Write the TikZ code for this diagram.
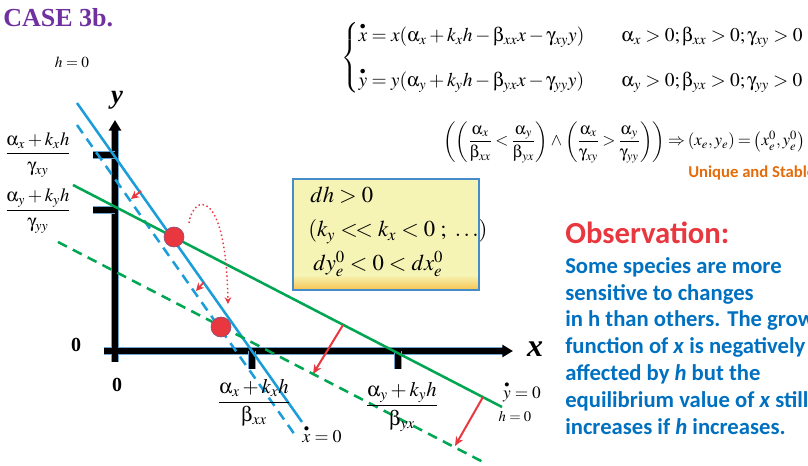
\documentclass[tikz,border=0pt]{standalone}
\usepackage{amsmath}
\usepackage{mathptmx}
\usepackage[Symbol]{upgreek}
\usepackage[no-math]{fontspec}
\setmainfont{Liberation Serif}
\newfontfamily\calibri{Carlito}
\usetikzlibrary{arrows.meta,calc}
\definecolor{lblue}{RGB}{27,157,217}
\definecolor{lgreen}{RGB}{0,166,81}
\definecolor{lred}{RGB}{232,55,63}
\definecolor{purp}{RGB}{112,48,160}
\definecolor{obsblue}{RGB}{0,112,192}
\definecolor{uorange}{RGB}{228,108,10}
\definecolor{boxfill}{RGB}{246,244,181}
\definecolor{boxbottom}{RGB}{248,196,80}
\definecolor{boxedge}{RGB}{70,140,200}
\definecolor{axisedge}{RGB}{110,165,210}
\definecolor{dotedge}{RGB}{140,80,120}
\newcommand\bd[1]{\overset{\scriptscriptstyle\bullet}{#1}}
\newcommand\ua{\upalpha}
\newcommand\ub{\upbeta}
\newcommand\ug{\upgamma}
\tikzset{
  axisout/.style={line width=5.4pt, color=axisedge},
  axisin/.style={line width=3.9pt, color=black},
  solidblue/.style={line width=1.9pt, color=lblue},
  dashblue/.style={line width=1.9pt, color=lblue, dash pattern=on 7.5pt off 5pt},
  solidgreen/.style={line width=1.9pt, color=lgreen},
  dashgreen/.style={line width=1.9pt, color=lgreen, dash pattern=on 7.5pt off 5pt},
  redarrow/.style={line width=1.5pt, color=lred, -{Stealth[length=7pt,width=6pt]}},
  reddot/.style={circle, fill=lred, draw=dotedge, line width=0.5pt, minimum size=15pt, inner sep=0pt},
  lbl/.style={inner sep=0pt},
  bluetxt/.style={anchor=base west, inner sep=0pt, text=obsblue, font=\calibri\bfseries\fontsize{17}{20}\selectfont},
}
\begin{document}
\begin{tikzpicture}[x=0.75pt,y=-0.75pt]
\useasboundingbox (0,0) rectangle (808,466);
\clip (0,0) rectangle (808,466);
% coordinates
\coordinate (yBot) at (115,362);
\coordinate (yTop) at (115,120);
\coordinate (xLeft) at (104,351);
\coordinate (xRight) at (513,351);
% title
\node[lbl, anchor=base west, text=purp, font=\bfseries\fontsize{19.5}{22}\selectfont] (title) at (3,27) {CASE 3b.};
% axes
\draw[axisout] (yBot) -- ($(yTop)+(0,9)$);
\draw[axisout] (xLeft) -- ($(xRight)+(-9,0)$);
\draw[axisin, -{Triangle[length=8pt,width=9pt]}] (yBot) -- (yTop);
\draw[axisin, -{Triangle[length=8pt,width=9pt]}] (xLeft) -- (xRight);
\coordinate (t1a) at (93,155); \coordinate (t1b) at (115,155);
\coordinate (t2a) at (93,210); \coordinate (t2b) at (115,210);
\coordinate (t3a) at (252,351); \coordinate (t3b) at (252,369);
\coordinate (t4a) at (398,351); \coordinate (t4b) at (398,369);
\foreach \a/\b in {t1a/t1b,t2a/t2b,t3a/t3b,t4a/t4b}{
  \draw[axisout] (\a) -- (\b);
}
\foreach \a/\b in {t1a/t1b,t2a/t2b,t3a/t3b,t4a/t4b}{
  \draw[axisin] (\a) -- (\b);
}
% lines
\coordinate (bs1) at (77,103); \coordinate (bs2) at (302,422);
\coordinate (bd1) at (77,125); \coordinate (bd2) at (295,435);
\coordinate (gs1) at (73,185); \coordinate (gs2) at (502,407);
\coordinate (gd1) at (58,242); \coordinate (gd2) at (485,463);
\draw[solidblue] (bs1) -- (bs2);
\draw[dashblue] (bd1) -- (bd2);
\draw[solidgreen] (gs1) -- (gs2);
\draw[dashgreen] (gd1) -- (gd2);
% red arrows
\coordinate (ra1) at (141,191); \coordinate (rb1) at (131,199);
\coordinate (ra2) at (204,282); \coordinate (rb2) at (196,291);
\coordinate (ra3) at (343,325); \coordinate (rb3) at (313,374);
\coordinate (ra4) at (483,397); \coordinate (rb4) at (455,446);
\draw[redarrow, line width=1.3pt, -{Stealth[length=6pt,width=6pt]}] (ra1) -- (rb1);
\draw[redarrow, line width=1.3pt, -{Stealth[length=6pt,width=6pt]}] (ra2) -- (rb2);
\draw[redarrow] (ra3) -- (rb3);
\draw[redarrow] (ra4) -- (rb4);
% dots
\node[reddot] (dot1) at (174,237) {};
\node[reddot] (dot2) at (221,327) {};
\coordinate (cs) at (189,223);
\coordinate (ce) at (228,304);
\draw[lred, line width=1.1pt, dotted, -{Stealth[length=5pt,width=5pt]}] (cs) .. controls (193,194) and (226,186) .. (ce);
% axis labels
\node[lbl, font=\bfseries\itshape\fontsize{20}{22}\selectfont] (ylab) at (117,100) {y};
\node[lbl, font=\bfseries\itshape\fontsize{24}{26}\selectfont] (xlab) at (535,349) {x};
\node[lbl, font=\bfseries\fontsize{15}{17}\selectfont] (zero1) at (76,345) {0};
\node[lbl, font=\bfseries\fontsize{15}{17}\selectfont] (zero2) at (117,385) {0};
\node[lbl, font=\fontsize{11.5}{13}\selectfont] (hzero1) at (72,62) {$h=0$};
% fractions
\node[lbl, font=\fontsize{14}{16}\selectfont] (fr1) at (38,155) {$\dfrac{\ua_x+k_xh}{\ug_{xy}}$};
\node[lbl, font=\fontsize{14}{16}\selectfont] (fr2) at (38,211) {$\dfrac{\ua_y+k_yh}{\ug_{yy}}$};
\node[lbl, font=\fontsize{15.5}{18}\selectfont] (fr3) at (254,403) {$\dfrac{\ua_x+k_xh}{\ub_{xx}}$};
\node[lbl, font=\fontsize{15.5}{18}\selectfont] (fr4) at (402,407) {$\dfrac{\ua_y+k_yh}{\ub_{yx}}$};
\node[lbl, font=\fontsize{13.5}{15}\selectfont] (xdot) at (322,434) {$\bd{x}=0$};
\node[lbl, font=\fontsize{13}{15}\selectfont] (ydot) at (522,392) {$\bd{y}=0$};
\node[lbl, font=\fontsize{11}{13}\selectfont] (hzero2) at (515,417) {$h=0$};
% box
\fill[boxfill] (293,179) rectangle (479,290);
\shade[top color=boxfill, bottom color=boxbottom] (293,275) rectangle (479,290);
\draw[boxedge, line width=1.2pt] (293,179) rectangle (479,290);
\node[lbl, anchor=base west, font=\fontsize{17}{20}\selectfont] (b1) at (310,203) {$dh>0$};
\node[lbl, anchor=base west, font=\fontsize{17}{20}\selectfont] (b2) at (308,237) {$(k_y\mathrel{<\!<}k_x<0\;;\ \ldots)$};
\node[lbl, anchor=base west, font=\fontsize{17}{20}\selectfont] (b3) at (313,271) {$dy_e^0<0<dx_e^0$};
% equations
\node[lbl, anchor=west, font=\fontsize{14.6}{17.5}\selectfont] (sys) at (341,58) {$\thickmuskip=4mu\left\{\begin{array}{@{}l@{\hspace{28pt}}l@{}}
\bd{x}=x(\ua_x+k_xh-\ub_{xx}x-\ug_{xy}y) & \ua_x>0;\ub_{xx}>0;\ug_{xy}>0\\[14pt]
\bd{y}=y(\ua_y+k_yh-\ub_{yx}x-\ug_{yy}y) & \ua_y>0;\ub_{yx}>0;\ug_{yy}>0
\end{array}\right.$};
\node[lbl, anchor=west, font=\fontsize{12.7}{15.5}\selectfont] (cond) at (443,142) {$\thickmuskip=3mu\medmuskip=3mu\left(\left(\dfrac{\ua_x}{\ub_{xx}}<\dfrac{\ua_y}{\ub_{yx}}\right)\wedge\left(\dfrac{\ua_x}{\ug_{xy}}>\dfrac{\ua_y}{\ug_{yy}}\right)\right)\Rightarrow\left(x_e,y_e\right)=\left(x_e^0,y_e^0\right)$};
\node[lbl, anchor=base west, text=uorange, font=\calibri\bfseries\fontsize{12.5}{14}\selectfont] (uniq) at (688,178) {Unique and Stable};
% observation
\node[lbl, anchor=base west, text=lred, font=\calibri\bfseries\fontsize{23}{26}\selectfont] (obs) at (565,244) {Observation:};
\node[bluetxt] (o1) at (565,274) {Some species are more};
\node[bluetxt] (o2) at (565,301) {sensitive to changes};
\node[bluetxt] (o3) at (565,327) {in h than others. The growth};
\node[bluetxt] (o4) at (565,354) {function of \textit{x} is negatively};
\node[bluetxt] (o5) at (565,381) {affected by \textit{h} but the};
\node[bluetxt] (o6) at (565,408) {equilibrium value of \textit{x} still};
\node[bluetxt] (o7) at (565,435) {increases if \textit{h} increases.};
\end{tikzpicture}
\end{document}
